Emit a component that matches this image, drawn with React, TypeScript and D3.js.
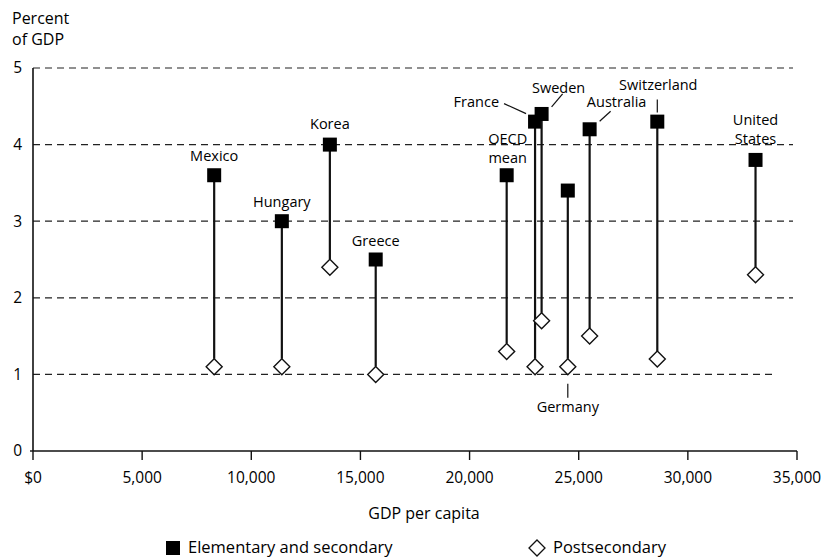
import React from "react";
import * as d3 from "d3";

const countries = ["Mexico", "Hungary", "Korea", "Greece", "OECD mean", "France", "Sweden", "Germany", "Australia", "Switzerland", "United States"];
const gdpPerCapita = [8300, 11400, 13600, 15700, 21700, 23000, 23300, 24500, 25500, 28600, 33100];
const elemSecondary = [3.6, 3.0, 4.0, 2.5, 3.6, 4.3, 4.4, 3.4, 4.2, 4.3, 3.8];
const postsecondary = [1.1, 1.1, 2.4, 1.0, 1.3, 1.1, 1.7, 1.1, 1.5, 1.2, 2.3];
const xTicks = [0, 5000, 10000, 15000, 20000, 25000, 30000, 35000];
const yTicks = [0, 1, 2, 3, 4, 5];

// label placement relative to the square: lines, dx, dy (first baseline), anchor, leader line
type Lab = { lines: string[]; dx: number; dy: number; anchor: string; leader?: [number, number, number, number] };
const labelPos: Record<string, Lab> = {
  Mexico: { lines: ["Mexico"], dx: 0, dy: -14, anchor: "middle" },
  Hungary: { lines: ["Hungary"], dx: 0, dy: -14, anchor: "middle" },
  Korea: { lines: ["Korea"], dx: 0, dy: -16, anchor: "middle" },
  Greece: { lines: ["Greece"], dx: 0, dy: -14, anchor: "middle" },
  "OECD mean": { lines: ["OECD", "mean"], dx: 1, dy: -31, anchor: "middle" },
  France: { lines: ["France"], dx: -36, dy: -15, anchor: "end", leader: [-31, -18, -9, -8] },
  Sweden: { lines: ["Sweden"], dx: 17, dy: -21, anchor: "middle", leader: [10, -7, 21, -20] },
  Germany: { lines: ["Germany"], dx: 0, dy: 0, anchor: "middle" },
  Australia: { lines: ["Australia"], dx: 27, dy: -22, anchor: "middle", leader: [10, -8, 21, -18] },
  Switzerland: { lines: ["Switzerland"], dx: 1, dy: -32, anchor: "middle", leader: [0, -22, 0, -9] },
  "United States": { lines: ["United", "States"], dx: 0, dy: -35, anchor: "middle" },
};

const FONT = "'Open Sans', 'Noto Sans', sans-serif";

export default function App() {
  const width = 826;
  const height = 557;
  const x = d3.scaleLinear().domain([0, 35000]).range([33, 797]);
  const y = d3.scaleLinear().domain([0, 5]).range([451, 68]);
  const fmt = (v: number) => (v === 0 ? "$0" : d3.format(",")(v));
  const sq = 14;
  const dm = 8;

  return (
    <svg
      width={width}
      height={height}
      style={{ position: "absolute", left: 0, top: 0, background: "#fff" }}
      fontFamily={FONT}
    >
      <rect width={width} height={height} fill="#fff" />
      <text x={12} y={24} fontSize={16} fill="#000">Percent</text>
      <text x={12} y={45} fontSize={16} fill="#000">of GDP</text>

      {yTicks.filter((t) => t > 0).map((t) => (
        <line
          key={`g${t}`}
          x1={x(0)}
          x2={t === 1 ? 773 : 793}
          y1={y(t)}
          y2={y(t)}
          stroke="#222"
          strokeWidth={1.2}
          strokeDasharray="7 5"
        />
      ))}
      {yTicks.map((t) => (
        <text key={`yl${t}`} x={22} y={y(t)} dy="0.35em" textAnchor="end" fontSize={15.5} fill="#000">
          {t}
        </text>
      ))}
      <line x1={x(0)} x2={x(0)} y1={y(5)} y2={y(0)} stroke="#111" strokeWidth={1.6} />
      <line x1={x(0)} x2={x(35000)} y1={y(0)} y2={y(0)} stroke="#111" strokeWidth={1.6} />
      <line x1={x(0) - 3} x2={x(0)} y1={y(0)} y2={y(0)} stroke="#111" strokeWidth={1.4} />
      {xTicks.map((t) => (
        <g key={`xt${t}`}>
          <line x1={x(t)} x2={x(t)} y1={y(0)} y2={y(0) + 9} stroke="#111" strokeWidth={1.4} />
          <text x={x(t)} y={483} textAnchor="middle" fontSize={15.5} fill="#000">
            {fmt(t)}
          </text>
        </g>
      ))}
      <text x={424} y={519} textAnchor="middle" fontSize={16} fill="#000">GDP per capita</text>

      {countries.map((c, i) => {
        const cx = x(gdpPerCapita[i]);
        const ye = y(elemSecondary[i]);
        const yp = y(postsecondary[i]);
        return (
          <g key={c}>
            <line x1={cx} x2={cx} y1={ye} y2={yp - dm} stroke="#111" strokeWidth={2.2} />
            <rect x={cx - sq / 2} y={ye - sq / 2} width={sq} height={sq} fill="#000" />
            <path
              d={`M${cx},${yp - dm}L${cx + dm},${yp}L${cx},${yp + dm}L${cx - dm},${yp}Z`}
              fill="#fff"
              stroke="#111"
              strokeWidth={1.4}
            />
          </g>
        );
      })}

      {countries.map((c, i) => {
        const cx = x(gdpPerCapita[i]);
        const L = labelPos[c];
        if (c === "Germany") {
          const yp = y(postsecondary[i]);
          return (
            <g key={`l${c}`}>
              <line x1={cx} x2={cx} y1={yp + 17} y2={yp + 31} stroke="#111" strokeWidth={1.2} />
              <text x={cx} y={yp + 45} textAnchor="middle" fontSize={14.5} fill="#000">{c}</text>
            </g>
          );
        }
        const ye = y(elemSecondary[i]);
        return (
          <g key={`l${c}`}>
            {L.leader && (
              <line
                x1={cx + L.leader[0]}
                y1={ye + L.leader[1]}
                x2={cx + L.leader[2]}
                y2={ye + L.leader[3]}
                stroke="#111"
                strokeWidth={1.2}
              />
            )}
            {L.lines.map((ln, j) => (
              <text
                key={j}
                x={cx + L.dx}
                y={ye + L.dy + j * 19}
                textAnchor={L.anchor as any}
                fontSize={14.5}
                fill="#000"
              >
                {ln}
              </text>
            ))}
          </g>
        );
      })}

      <rect x={166} y={541} width={14} height={14} fill="#000" />
      <text x={188} y={553} fontSize={16.5} fill="#000">Elementary and secondary</text>
      <path d={`M537,540L545,548L537,556L529,548Z`} fill="#fff" stroke="#111" strokeWidth={1.3} />
      <text x={553} y={553} fontSize={16.5} fill="#000">Postsecondary</text>
    </svg>
  );
}
